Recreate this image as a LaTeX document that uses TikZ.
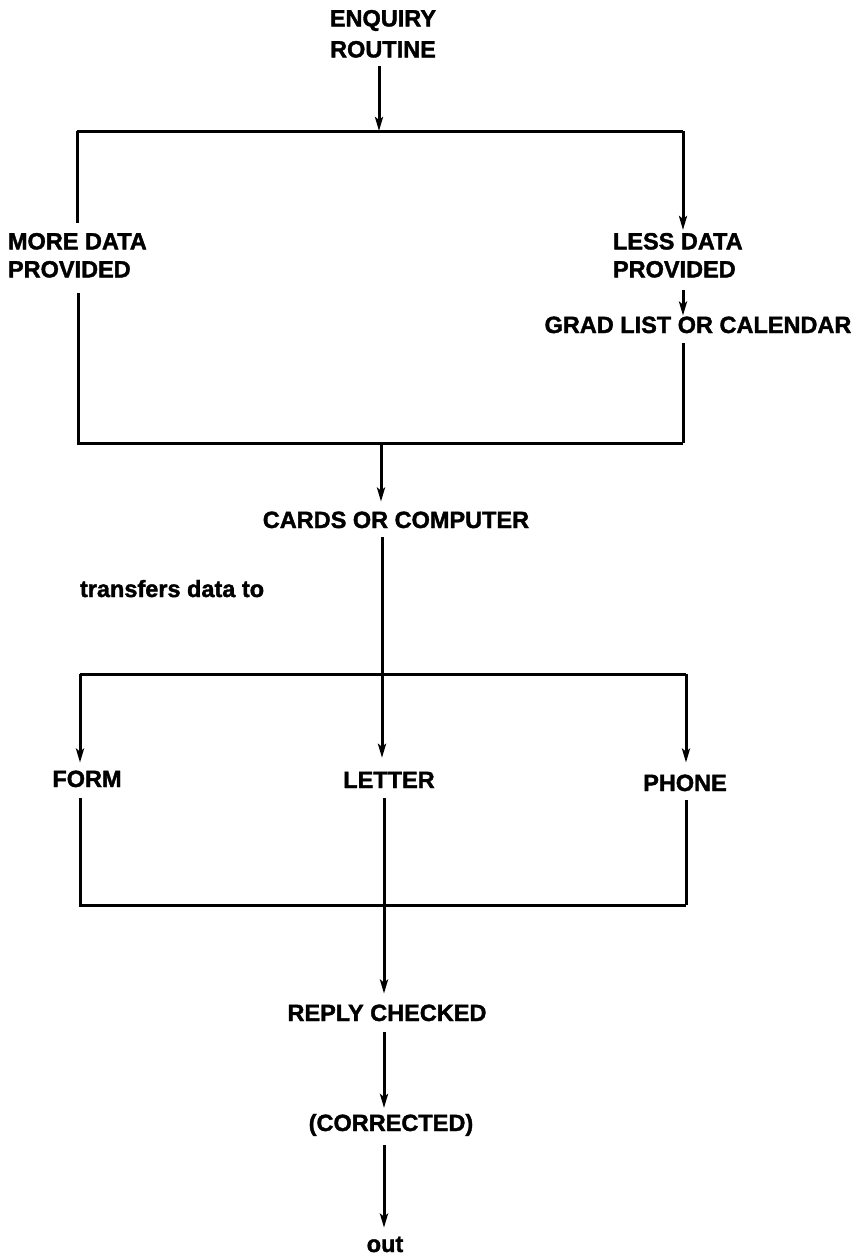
\documentclass[tikz,border=0pt]{standalone}
\usepackage{fontspec}
\setmainfont{Liberation Sans}[BoldFeatures={FakeBold=1.6}]
\usetikzlibrary{arrows.meta}
\begin{document}
\begin{tikzpicture}[x=1pt,y=-1pt,
  lbl/.style={font=\bfseries\fontsize{23.5}{31}\selectfont, inner sep=0pt, outer sep=0pt, align=center},
  lbll/.style={font=\bfseries\fontsize{23.5}{28}\selectfont, inner sep=0pt, outer sep=0pt, align=left},
  ln/.style={line width=3pt, line cap=butt, line join=miter},
  arr/.style={ln, -{Stealth[length=14pt,width=8pt,inset=3pt]}}]
\useasboundingbox (0,0) rectangle (856,1256);
\fill[white] (0,0) rectangle (856,1256);

% text nodes
\node[lbl, anchor=north] (enq) at (383,10) {ENQUIRY\\ROUTINE};
\node[lbll, anchor=north west] (more) at (8,233) {MORE DATA\\PROVIDED};
\node[lbll, anchor=north west] (less) at (613,233) {LESS DATA\\PROVIDED};
\node[lbl, anchor=base] (grad) at (698,333) {GRAD LIST OR CALENDAR};
\node[lbl, anchor=base] (cards) at (396,528) {CARDS OR COMPUTER};
\node[lbl, anchor=base west] (trans) at (80,597) {transfers data to};
\node[lbl, anchor=base] (form) at (87,787) {FORM};
\node[lbl, anchor=base] (letter) at (389,788) {LETTER};
\node[lbl, anchor=base] (phone) at (685,791) {PHONE};
\node[lbl, anchor=base] (reply) at (387,1021) {REPLY CHECKED};
\node[lbl, anchor=base] (corr) at (391,1131) {(CORRECTED)};
\node[lbl, anchor=base] (out) at (385,1252) {out};

% junction coordinates
\coordinate (t) at (379,131);
\coordinate (tL) at (77,131);
\coordinate (tR) at (683,131);
\coordinate (bL) at (78,443);
\coordinate (bR) at (683,443);
\coordinate (b) at (381,443);
\coordinate (sL) at (80,674);
\coordinate (sM) at (382,674);
\coordinate (sR) at (686,674);
\coordinate (uL) at (80,905);
\coordinate (uM) at (384,905);
\coordinate (uR) at (686,905);

% upper block
\draw[arr, shorten <=8pt] (enq.south -| t) -- (t);
\draw[ln] (tL) -- (tR);
\draw[arr, shorten >=3pt] (tR) -- (less.north -| tR);
\draw[ln, shorten >=10pt] (tL) -- (more.north -| tL);
\draw[ln, shorten <=15pt] (more.south -| bL) -- (bL) -- (bR);
\draw[arr, shorten <=12pt, shorten >=1pt] (less.south -| tR) -- (grad.north -| tR);
\draw[ln, shorten <=10pt] (grad.south -| bR) -- (bR);

% middle
\draw[arr, shorten >=10pt] (b) -- (cards.north -| b);
\draw[arr, shorten <=9pt, shorten >=14pt] (cards.south -| sM) -- (letter.north -| sM);
\draw[ln] (sL) -- (sR);
\draw[arr, shorten >=8pt] (sL) -- (form.north -| sL);
\draw[arr, shorten >=12pt] (sR) -- (phone.north -| sR);

% lower block
\draw[ln, shorten <=11pt] (form.south -| uL) -- (uL) -- (uR);
\draw[ln, shorten <=9pt] (phone.south -| uR) -- (uR);
\draw[arr, shorten <=10pt, shorten >=11pt] (letter.south -| uM) -- (reply.north -| uM);
\draw[arr, shorten <=11pt, shorten >=6pt] (reply.south -| uM) -- (corr.north -| uM);
\draw[arr, shorten <=9pt, shorten >=9pt] (corr.south -| uM) -- (out.north -| uM);
\end{tikzpicture}
\end{document}
